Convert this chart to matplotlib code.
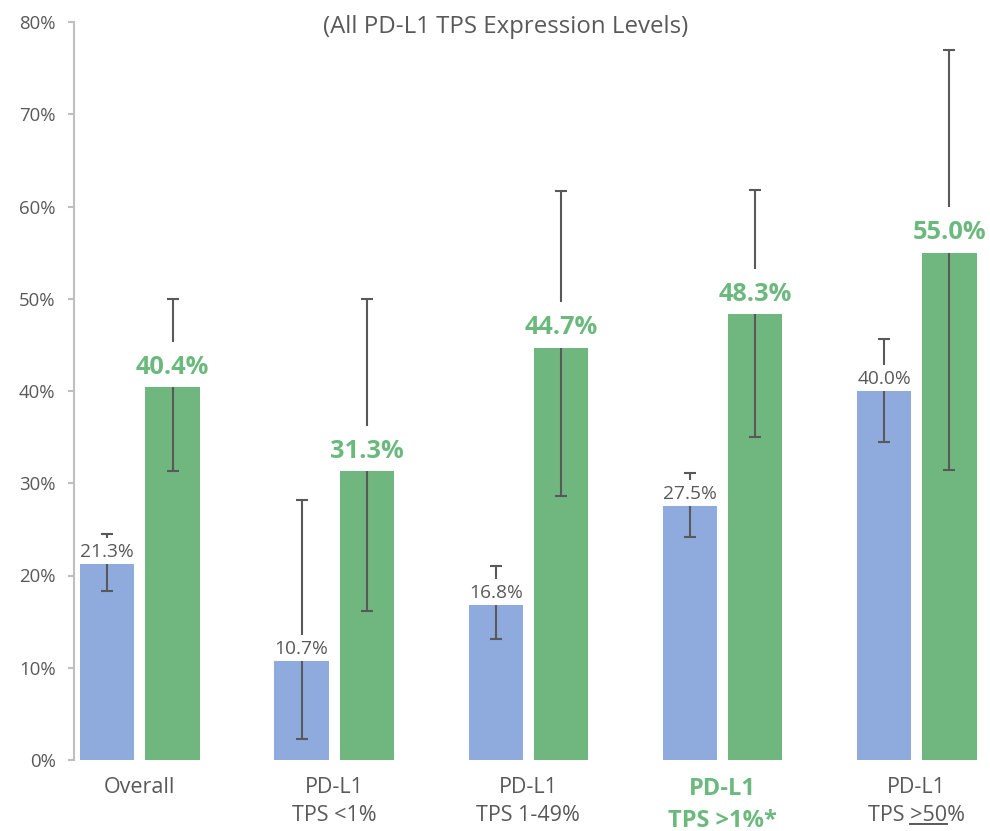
import numpy as np
import matplotlib
matplotlib.use('Agg')
import matplotlib.pyplot as plt
from matplotlib.lines import Line2D
from matplotlib.ticker import FuncFormatter

plt.rcParams['font.family'] = ['Open Sans', 'DejaVu Sans']

# response rates (%) with 95% CI bounds
groups = ['Overall', 'PD-L1\nTPS <1%', 'PD-L1\nTPS 1-49%', 'PD-L1\nTPS >1%*', 'PD-L1\nTPS >50%']
control = [21.3, 10.7, 16.8, 27.5, 40.0]
control_lo = [18.3, 2.3, 13.1, 24.2, 34.5]
control_hi = [24.5, 28.2, 21.0, 31.1, 45.6]
combo = [40.4, 31.3, 44.7, 48.3, 55.0]
combo_lo = [31.3, 16.2, 28.6, 35.0, 31.4]
combo_hi = [50.0, 50.0, 61.7, 61.8, 77.0]
highlight = 3          # index of the bold green group label
underlined = '>50'     # part of the last label that gets underlined

BLUE = '#8FABDD'
GREEN = '#70B77F'
GREEN_TXT = '#6CB97D'
GREY = '#595959'
AXIS = '#BFBFBF'
BAR_W = 0.28
OFF = 0.168
XLAB_SIZE = 15.5

fig = plt.figure(figsize=(9.9, 8.31), dpi=100)
ax = fig.add_axes([74 / 990, 71 / 831, 916 / 990, 738 / 831])

x = np.arange(len(groups))


def draw_series(xs, vals, lo, hi, color, gap):
    ax.bar(xs, vals, width=BAR_W, color=color, zorder=2)
    yerr = [np.subtract(vals, lo), np.subtract(hi, vals)]
    ax.errorbar(xs, vals, yerr=yerr, fmt='none', ecolor=GREY, elinewidth=1.5,
                capsize=4.3, capthick=1.5, zorder=3)
    # white strip above each bar keeps the whisker clear of the value label
    ax.bar(xs, gap, bottom=vals, width=BAR_W * 0.5, color='white', zorder=4)


draw_series(x - OFF, control, control_lo, control_hi, BLUE, 2.8)
draw_series(x + OFF, combo, combo_lo, combo_hi, GREEN, 4.9)

for xi, v in zip(x - OFF, control):
    ax.annotate(f'{v:.1f}%', xy=(xi, v), xytext=(0, 5), textcoords='offset points',
                ha='center', va='baseline', fontsize=13.8, color=GREY, zorder=5)
for xi, v in zip(x + OFF, combo):
    ax.annotate(f'{v:.1f}%', xy=(xi, v), xytext=(0, 9.5), textcoords='offset points',
                ha='center', va='baseline', fontsize=18.3, fontweight='bold',
                color=GREEN_TXT, zorder=5)

ax.set_xlim(-0.3395, 4.377)
ax.set_ylim(0, 80)
ax.set_yticks(np.arange(0, 81, 10))
ax.yaxis.set_major_formatter(FuncFormatter(lambda v, p: f'{v:.0f}%'))
ax.tick_params(axis='y', length=4.3, width=1.5, color=AXIS, pad=9,
               labelsize=13.4, labelcolor=GREY)
ax.set_xticks([])
for side in ['top', 'right', 'bottom']:
    ax.spines[side].set_visible(False)
ax.spines['left'].set_color(AXIS)
ax.spines['left'].set_linewidth(1.5)

# category labels under each pair of bars
labels = []
for i, g in enumerate(groups):
    if i == highlight:
        t = ax.annotate(g, xy=(i, 0), xycoords=('data', 'axes fraction'),
                        xytext=(0, -12), textcoords='offset points', ha='center',
                        va='top', fontsize=17, fontweight='bold', color=GREEN_TXT,
                        linespacing=1.45)
    else:
        t = ax.annotate(g, xy=(i, 0), xycoords=('data', 'axes fraction'),
                        xytext=(0, -12.5), textcoords='offset points', ha='center',
                        va='top', fontsize=XLAB_SIZE, color=GREY, linespacing=1.4)
    labels.append(t)

fig.text(506 / 990, 1 - 27 / 831, '(All PD-L1 TPS Expression Levels)',
         ha='center', va='center', fontsize=17.3, color=GREY)

# underline the threshold in the last label
fig.canvas.draw()
renderer = fig.canvas.get_renderer()
last = labels[-1]
line2 = groups[-1].split('\n')[-1]


def text_width(s):
    tmp = fig.text(0, 0, s, fontsize=XLAB_SIZE)
    w = tmp.get_window_extent(renderer).width
    tmp.remove()
    return w


bb = last.get_window_extent(renderer)
cx = (bb.x0 + bb.x1) / 2
right = cx + text_width(line2) / 2
tail = line2[line2.index(underlined) + len(underlined):]
u0 = right - text_width(underlined + tail)
u1 = right - text_width(tail)
uy = bb.y0 + 2
W, H = fig.bbox.width, fig.bbox.height
fig.add_artist(Line2D([u0 / W, u1 / W], [uy / H, uy / H], color=GREY, lw=1.4))

fig.savefig('out.png', dpi=100)
